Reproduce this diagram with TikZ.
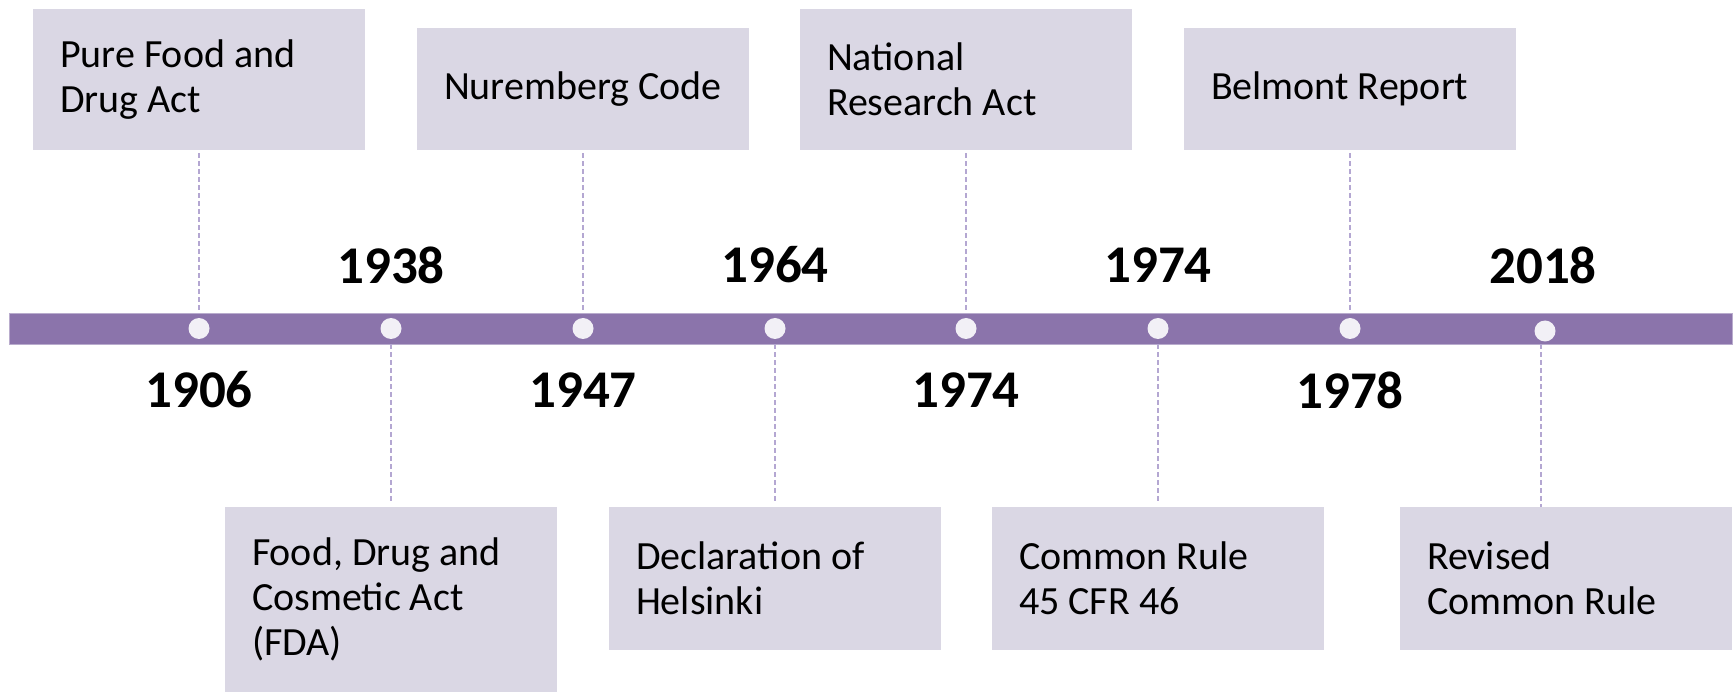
\documentclass[tikz,border=0pt]{standalone}
\usepackage{fontspec}
\setmainfont{Carlito}
\definecolor{barc}{RGB}{139,116,171}
\definecolor{boxc}{RGB}{218,215,228}
\definecolor{dotc}{RGB}{242,240,246}
\definecolor{dashc}{RGB}{180,167,210}
\tikzset{
  evbox/.style={fill=boxc, draw=none, minimum width=332pt, inner sep=0pt},
  evtext/.style={anchor=west, xshift=27pt, inner sep=0pt, align=left, font=\fontsize{40}{45}\selectfont},
  yearlbl/.style={font=\fontsize{53}{56}\selectfont\bfseries, inner sep=0pt},
  dotnode/.style={circle, fill=dotc, draw=none, minimum width=21pt, minimum height=21pt, inner sep=0pt},
  guide/.style={draw=dashc, line width=1.4pt, dash pattern=on 5pt off 3pt}
}
\begin{document}
\begin{tikzpicture}[x=1pt, y=-1pt]
\useasboundingbox (0,0) rectangle (1735,692);
% bar
\node[fill=barc, draw=barc!60!white, line width=0.8pt, minimum width=1723pt, minimum height=31pt, inner sep=0pt] (bar) at (870.5,328.5) {};
% dots
\node[dotnode] (c1) at (199,328.5) {};
\node[dotnode] (c2) at (391,328.5) {};
\node[dotnode] (c3) at (583,328.5) {};
\node[dotnode] (c4) at (775,328.5) {};
\node[dotnode] (c5) at (966,328.5) {};
\node[dotnode] (c6) at (1158,328.5) {};
\node[dotnode] (c7) at (1350,328.5) {};
\node[dotnode] (c8) at (1545,331) {};
% top boxes
\node[evbox, minimum height=141pt] (A) at (199,79.5) {};
\node[evbox, minimum height=122pt] (B) at (583,89) {};
\node[evbox, minimum height=141pt] (C) at (966,79.5) {};
\node[evbox, minimum height=122pt] (D) at (1350,89) {};
\node[evtext] (At) at (A.west) {Pure Food and\\Drug Act};
\node[evtext] (Bt) at (B.west) {Nuremberg Code};
\node[evtext] (Ct) at (C.west) {National\\Research Act};
\node[evtext] (Dt) at (D.west) {Belmont Report};
% bottom boxes
\node[evbox, minimum height=185pt] (E) at (391,599.5) {};
\node[evbox, minimum height=143pt] (F) at (775,578.5) {};
\node[evbox, minimum height=143pt] (G) at (1158,578.5) {};
\node[evbox, minimum height=143pt] (H) at (1566,578.5) {};
\node[evtext] (Et) at (E.west) {Food, Drug and\\Cosmetic Act\\(FDA)};
\node[evtext] (Ft) at (F.west) {Declaration of\\Helsinki};
\node[evtext] (Gt) at (G.west) {Common Rule\\45 CFR 46};
\node[evtext] (Ht) at (H.west) {Revised\\Common Rule};
% years
\node[yearlbl] (y1) at (199,390) {1906};
\node[yearlbl] (y2) at (391,265) {1938};
\node[yearlbl] (y3) at (583,390) {1947};
\node[yearlbl] (y4) at (775,265) {1964};
\node[yearlbl] (y5) at (966,390) {1974};
\node[yearlbl] (y6) at (1158,265) {1974};
\node[yearlbl] (y7) at (1350,390) {1978};
\node[yearlbl] (y8) at (1543,265) {2018};
% guides
\draw[guide] ([yshift=-3pt]A.south) -- (A.south |- bar.north);
\draw[guide] ([yshift=-3pt]B.south) -- (B.south |- bar.north);
\draw[guide] ([yshift=-3pt]C.south) -- (C.south |- bar.north);
\draw[guide] ([yshift=-3pt]D.south) -- (D.south |- bar.north);
\draw[guide] (E.north |- bar.south) -- ([yshift=4pt]E.north);
\draw[guide] (F.north |- bar.south) -- ([yshift=4pt]F.north);
\draw[guide] (G.north |- bar.south) -- ([yshift=4pt]G.north);
\draw[guide] ([xshift=-4pt]c8 |- bar.south) -- ([xshift=-4pt]c8 |- H.north);
\end{tikzpicture}
\end{document}
